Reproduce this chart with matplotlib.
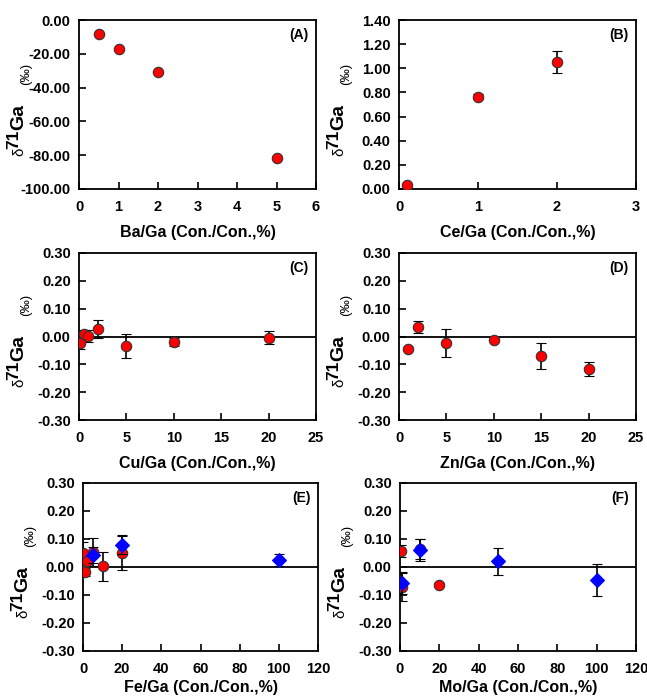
import matplotlib
matplotlib.use("Agg")
import matplotlib.pyplot as plt
import numpy as np

plt.rcParams['font.family'] = ['Liberation Sans', 'DejaVu Sans']

# ---- data ----
ba_x = [0.5, 1, 2, 5]
ba_y = [-8.5, -17.0, -30.5, -81.5]
ba_err = [0.5, 0.5, 0.5, 0.5]

ce_x = [0.1, 1, 2]
ce_y = [0.03, 0.763, 1.055]
ce_err = [0.01, 0.02, 0.09]

cu_x = [0.1, 0.5, 1, 2, 5, 10, 20]
cu_y = [-0.025, 0.008, 0.002, 0.027, -0.035, -0.020, -0.005]
cu_err = [0.02, 0.015, 0.02, 0.033, 0.043, 0.015, 0.023]

zn_x = [1, 2, 5, 10, 15, 20]
zn_y = [-0.044, 0.033, -0.024, -0.012, -0.070, -0.117]
zn_err = [0.005, 0.021, 0.050, 0.005, 0.045, 0.024]

fe_red_x = [0.1, 0.5, 1, 2, 5, 10, 20]
fe_red_y = [0.050, -0.010, -0.018, 0.020, 0.055, 0.002, 0.050]
fe_red_err = [0.040, 0.015, 0.015, 0.015, 0.050, 0.052, 0.060]
fe_blue_x = [5, 20, 100]
fe_blue_y = [0.043, 0.080, 0.025]
fe_blue_err = [0.030, 0.035, 0.022]

mo_red_x = [0.5, 1, 10, 20]
mo_red_y = [0.057, -0.073, 0.064, -0.063]
mo_red_err = [0.020, 0.050, 0.035, 0.005]
mo_blue_x = [1, 10, 50, 100]
mo_blue_y = [-0.057, 0.060, 0.020, -0.048]
mo_blue_err = [0.040, 0.040, 0.048, 0.057]

W, H = 647, 698
fig = plt.figure(figsize=(W / 100, H / 100), dpi=100)

def box(l, t, r, b):
    return [l / W, 1 - b / H, (r - l) / W, (b - t) / H]

def ylab(ax):
    # composite label: small delta, large raised 71, large Ga, then (‰)
    w = ax.get_position().width * W
    h = ax.get_position().height * H
    def fx(px):
        return px / w
    def fy(py):
        return py / h
    ax.text(fx(-60), fy(37), 'δ', transform=ax.transAxes, rotation=90,
            ha='center', va='center', fontsize=11)
    ax.text(fx(-65), fy(49.5), '71', transform=ax.transAxes, rotation=90,
            ha='center', va='center', fontsize=12.5, fontweight='bold')
    ax.text(fx(-60.5), fy(72), 'Ga', transform=ax.transAxes, rotation=90,
            ha='center', va='center', fontsize=14, fontweight='bold')
    ax.text(fx(-53), fy(115), '(‰)', transform=ax.transAxes, rotation=90,
            ha='center', va='center', fontsize=9.5)

def style(ax, xlim, xticks, ylim, yticks, xlabel, letter, zero=False, lpad=8):
    ax.set_xlim(xlim)
    ax.set_ylim(ylim)
    ax.set_xticks(xticks)
    ax.set_yticks(yticks)
    ax.set_yticklabels([f"{v:.2f}" for v in yticks])
    ax.tick_params(direction='in', length=5, width=1.2, labelsize=10.5,
                   top=False, right=False)
    ax.tick_params(axis='x', pad=8)
    ax.tick_params(axis='y', pad=6)
    for lab in ax.get_xticklabels() + ax.get_yticklabels():
        lab.set_fontweight('bold')
    for sp in ax.spines.values():
        sp.set_linewidth(1.3)
    ax.set_xlabel(xlabel, fontsize=11.5, fontweight='bold', labelpad=lpad)
    ax.text(0.97, 0.95, f"({letter})", transform=ax.transAxes, ha='right',
            va='top', fontsize=10, fontweight='bold')
    ylab(ax)
    if zero:
        ax.axhline(0, color='black', lw=1.3, zorder=1)

def red(ax, x, y, e):
    ax.errorbar(x, y, yerr=e, fmt='o', color='black', ecolor='black',
                elinewidth=1.2, capsize=3.5, capthick=1.2, ms=7.5,
                mfc='#ff0000', mec='#333333', mew=0.8, zorder=3)

def blue(ax, x, y, e):
    ax.errorbar(x, y, yerr=e, fmt='D', color='black', ecolor='black',
                elinewidth=1.2, capsize=3.5, capthick=1.2, ms=7,
                mfc='#0000ff', mec='#0000ff', mew=0.8, zorder=4)

y3 = [-0.3, -0.2, -0.1, 0.0, 0.1, 0.2, 0.3]

axA = fig.add_axes(box(79, 20, 316, 189))
red(axA, ba_x, ba_y, ba_err)
style(axA, (0, 6), range(0, 7), (-100, 0), list(range(-100, 1, 20)),
      'Ba/Ga (Con./Con.,%)', 'A')

axB = fig.add_axes(box(399, 20, 636, 189))
red(axB, ce_x, ce_y, ce_err)
style(axB, (0, 3), range(0, 4), (0, 1.4), [0, 0.2, 0.4, 0.6, 0.8, 1.0, 1.2, 1.4],
      'Ce/Ga (Con./Con.,%)', 'B')

axC = fig.add_axes(box(79, 253, 316, 420))
red(axC, cu_x, cu_y, cu_err)
style(axC, (0, 25), range(0, 26, 5), (-0.3, 0.3), y3,
      'Cu/Ga (Con./Con.,%)', 'C', zero=True)

axD = fig.add_axes(box(399, 253, 636, 420))
red(axD, zn_x, zn_y, zn_err)
style(axD, (0, 25), range(0, 26, 5), (-0.3, 0.3), y3,
      'Zn/Ga (Con./Con.,%)', 'D', zero=True)

axE = fig.add_axes(box(83, 483, 318, 651))
red(axE, fe_red_x, fe_red_y, fe_red_err)
blue(axE, fe_blue_x, fe_blue_y, fe_blue_err)
style(axE, (0, 120), range(0, 121, 20), (-0.3, 0.3), y3,
      'Fe/Ga (Con./Con.,%)', 'E', zero=True, lpad=3)

axF = fig.add_axes(box(400, 483, 636, 651))
red(axF, mo_red_x, mo_red_y, mo_red_err)
blue(axF, mo_blue_x, mo_blue_y, mo_blue_err)
style(axF, (0, 120), range(0, 121, 20), (-0.3, 0.3), y3,
      'Mo/Ga (Con./Con.,%)', 'F', zero=True, lpad=3)

fig.savefig('out.png', dpi=100)
